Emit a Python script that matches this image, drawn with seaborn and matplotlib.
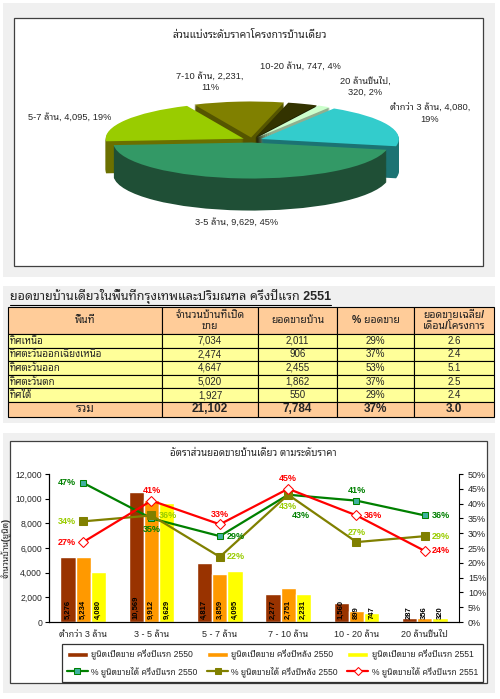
import numpy as np
import pandas as pd
import matplotlib
matplotlib.use("Agg")
import matplotlib.pyplot as plt
import seaborn as sns
from matplotlib import font_manager
from matplotlib.patches import Rectangle
from matplotlib.ticker import FuncFormatter, PercentFormatter

# ---- pie: share of price levels ----
pie_labels = ["ต่ำกว่า 3 ล้าน", "3-5 ล้าน", "5-7 ล้าน", "7-10 ล้าน", "10-20 ล้าน", "20 ล้านขึ้นไป"]
pie_units = [4080, 9629, 4095, 2231, 747, 320]
pie_pct = [19, 45, 19, 11, 4, 2]
pie_top = ["#33CCCC", "#339966", "#99CC00", "#808000", "#333300", "#CCFFCC"]
pie_side = ["#1C7373", "#1F4F36", "#6B7000", "#555500", "#1A1A00", "#8FAF8F"]

# ---- table ----
table_title = "ยอดขายบ้านเดี่ยวในพื้นที่กรุงเทพและปริมณฑล ครึ่งปีแรก 2551"
table_header = ["พื้นที่", "จำนวนบ้านที่เปิด\nขาย", "ยอดขายบ้าน", "% ยอดขาย", "ยอดขายเฉลี่ย/\nเดือน/โครงการ"]
areas = ["ทิศเหนือ", "ทิศตะวันออกเฉียงเหนือ", "ทิศตะวันออก", "ทิศตะวันตก", "ทิศใต้", "รวม"]
opened = [7034, 2474, 4647, 5020, 1927, 21102]
sold = [2011, 906, 2455, 1862, 550, 7784]
sold_pct = [29, 37, 53, 37, 29, 37]
avg_sold = [2.6, 2.4, 5.1, 2.5, 2.4, 3.0]

# ---- combo chart ----
price_ranges = ["ต่ำกว่า 3 ล้าน", "3 - 5 ล้าน", "5 - 7 ล้าน", "7 - 10 ล้าน", "10 - 20 ล้าน", "20 ล้านขึ้นไป"]
bar_series = ["ยูนิตเปิดขาย ครึ่งปีแรก 2550", "ยูนิตเปิดขาย ครึ่งปีหลัง 2550", "ยูนิตเปิดขาย ครึ่งปีแรก 2551"]
open_h1_2550 = [5276, 10569, 4817, 2277, 1560, 287]
open_h2_2550 = [5234, 9912, 3859, 2751, 899, 356]
open_h1_2551 = [4080, 9629, 4095, 2231, 747, 320]
bar_colors = ["#993300", "#FF9900", "#FFFF00"]

line_series = ["% ยูนิตขายได้ ครึ่งปีแรก 2550", "% ยูนิตขายได้ ครึ่งปีหลัง 2550", "% ยูนิตขายได้ ครึ่งปีแรก 2551"]
sold_h1_2550 = [47, 35, 29, 43, 41, 36]
sold_h2_2550 = [34, 36, 22, 43, 27, 29]
sold_h1_2551 = [27, 41, 33, 45, 36, 24]
line_colors = ["#008000", "#808000", "#FF0000"]
label_colors = ["#008000", "#99CC00", "#FF0000"]
label_place = [["l", "b", "r", "br", "a", "r"],
               ["l", "r", "r", "b", "a", "r"],
               ["l", "a", "a", "a", "r", "r"]]

names = {f.name for f in font_manager.fontManager.ttflist}
thai = next((n for n in ["Noto Sans Thai Looped", "Sarabun", "IBM Plex Sans Thai Looped",
                         "Noto Sans Thai", "Bai Jamjuree"] if n in names), "DejaVu Sans")
sns.set_style("white")
plt.rcParams["font.family"] = ["Liberation Sans", thai]
plt.rcParams["axes.edgecolor"] = "black"

fig = plt.figure(figsize=(5, 6.99), dpi=100)
bg = fig.add_axes([0, 0, 1, 1], zorder=-5)
bg.set_xlim(0, 500)
bg.set_ylim(699, 0)
bg.axis("off")
for x0, y0, x1, y1 in [(3, 3, 495, 277), (3, 286, 495, 423), (3, 433, 495, 693)]:
    bg.add_patch(Rectangle((x0, y0), x1 - x0, y1 - y0, facecolor="#F0F0F0", edgecolor="none"))
bg.add_patch(Rectangle((14, 18), 469, 248, facecolor="white", edgecolor="#404040", lw=0.9))
bg.add_patch(Rectangle((10, 441), 477, 242, facecolor="white", edgecolor="#404040", lw=0.9))

# ---- 3D-ish pie ----
axp = fig.add_axes([72 / 500, 1 - 230 / 699, 360 / 500, 140 / 699])
explode = [0.07] * len(pie_units)
depth = 0.89
for d in np.linspace(-depth, 0, 36)[:-1]:
    axp.pie(pie_units, colors=pie_side, startangle=58, counterclock=False,
            explode=explode, center=(0, d), wedgeprops=dict(linewidth=0))
axp.pie(pie_units, colors=pie_top, startangle=58, counterclock=False,
        explode=explode, center=(0, 0), wedgeprops=dict(linewidth=0))
axp.set_aspect("auto")
axp.set_xlim(-180 / 138, 180 / 138)
axp.set_ylim(-90 / 36, 50 / 36)
axp.axis("off")

bg.text(250, 35, "ส่วนแบ่งระดับราคาโครงการบ้านเดี่ยว", ha="center", va="center",
        fontsize=7.5, fontweight="bold")
pie_text_pos = [(430, 114, "{l}, {u:,},\n{p}%"), (237, 222, "{l}, {u:,}, {p}%"),
                (70, 117, "{l}, {u:,}, {p}%"), (210, 82, "{l}, {u:,},\n{p}%"),
                (300, 66, "{l}, {u:,}, {p}%"), (365, 87, "{l},\n{u:,}, {p}%")]
for (x, y, fmt), lab, u, p in zip(pie_text_pos, pie_labels, pie_units, pie_pct):
    bg.text(x, y, fmt.format(l=lab, u=u, p=p), ha="center", va="center",
            multialignment="center", fontsize=6.7, linespacing=1.3)

# ---- table ----
t = bg.text(10, 297, table_title, ha="left", va="center", fontsize=9, fontweight="bold")
fig.canvas.draw()
bb = t.get_window_extent().transformed(bg.transData.inverted())
bg.plot([bb.x0, bb.x1], [304.5, 304.5], color="black", lw=0.8)

axt = fig.add_axes([8 / 500, 1 - 417 / 699, 486 / 500, 110 / 699])
axt.axis("off")
cells = [[a, f"{o:,}", f"{s:,}", f"{p}%", f"{m:.1f}"]
         for a, o, s, p, m in zip(areas, opened, sold, sold_pct, avg_sold)]
tbl = axt.table(cellText=cells, colLabels=table_header,
                colWidths=[154, 96, 79, 77, 80], cellLoc="center", bbox=[0, 0, 1, 1])
tbl.auto_set_font_size(False)
n_rows = len(areas)
for (r, c), cell in tbl.get_celld().items():
    cell.set_edgecolor("black")
    cell.set_linewidth(0.8)
    txt = cell.get_text()
    if r == 0:
        cell.set_height(27)
        cell.set_facecolor("#FFCC99")
        txt.set_fontsize(7.5)
        txt.set_fontweight("bold")
        txt.set_color("#222222")
    elif r == n_rows:
        cell.set_height(15)
        cell.set_facecolor("#FFCC99")
        txt.set_fontsize(8.5)
        txt.set_fontweight("bold")
    else:
        cell.set_height(13.6)
        cell.set_facecolor("#FFFF99")
        txt.set_fontsize(7)
        if c == 0:
            cell.PAD = 0.01
            txt.set_horizontalalignment("left")

# ---- combo chart ----
axc = fig.add_axes([49 / 500, 1 - 622 / 699, 410 / 500, 148 / 699])
bars = pd.DataFrame({
    "ช่วงราคา": price_ranges * 3,
    "ยูนิต": open_h1_2550 + open_h2_2550 + open_h1_2551,
    "ชุด": np.repeat(bar_series, len(price_ranges)),
})
sns.barplot(data=bars, x="ช่วงราคา", y="ยูนิต", hue="ชุด", order=price_ranges,
            hue_order=bar_series, palette=bar_colors, width=0.67, saturation=1,
            ax=axc, legend=False)
for cont, vals in zip(axc.containers, [open_h1_2550, open_h2_2550, open_h1_2551]):
    for bar, v in zip(cont, vals):
        axc.annotate(f"{v:,}", (bar.get_x() + bar.get_width() / 2, 0), xytext=(0, 2),
                     textcoords="offset points", rotation=90, ha="center", va="bottom",
                     fontsize=5.5, fontweight="bold", color="black")

ax2 = axc.twinx()
xpos = np.arange(len(price_ranges))
markers = [dict(marker="s", markersize=5, markerfacecolor="#40B0A0", markeredgecolor="#008000"),
           dict(marker="s", markersize=5.5, markerfacecolor="#808000", markeredgecolor="#808000"),
           dict(marker="D", markersize=5, markerfacecolor="white", markeredgecolor="#FF0000")]
line_handles = []
offsets = {"l": ((-5, 0), "right", "center"), "r": ((5, 0), "left", "center"),
           "a": ((0, 4), "center", "bottom"), "b": ((0, -5), "center", "top"),
           "br": ((9, -12), "center", "top")}
for vals, col, lcol, mk, places in zip([sold_h1_2550, sold_h2_2550, sold_h1_2551],
                                       line_colors, label_colors, markers, label_place):
    y = np.array(vals) / 100
    sns.lineplot(x=xpos, y=y, ax=ax2, color=col, linewidth=1.6, legend=False, **mk)
    line_handles.append(ax2.lines[-1])
    for xi, yi, v, pl in zip(xpos, y, vals, places):
        off, ha, va = offsets[pl]
        ax2.annotate(f"{v}%", (xi, yi), xytext=off, textcoords="offset points",
                     ha=ha, va=va, fontsize=6.5, fontweight="bold", color=lcol)

axc.set_xlim(-0.5, len(price_ranges) - 0.5)
axc.set_ylim(0, 12000)
axc.set_yticks(range(0, 12001, 2000))
axc.yaxis.set_major_formatter(FuncFormatter(lambda v, p: f"{int(v):,}"))
axc.set_xticks(np.arange(0.5, len(price_ranges) - 0.5, 1), minor=True)
axc.tick_params(axis="x", which="major", length=0, labelsize=6.5, pad=6)
axc.tick_params(axis="x", which="minor", length=4, direction="out", width=0.8, color="black")
axc.tick_params(axis="y", labelsize=6.2, length=3, pad=2, direction="out", width=0.8,
                color="black", left=True)
axc.set_xlabel("")
axc.set_ylabel("จำนวนบ้าน(ยูนิต)", fontsize=6.3, fontweight="bold")
axc.yaxis.set_label_coords(-0.09, 0.5)
ax2.set_ylim(0, 0.5)
ax2.set_yticks(np.arange(0, 0.501, 0.05))
ax2.yaxis.set_major_formatter(PercentFormatter(1, decimals=0))
ax2.tick_params(axis="y", labelsize=6.5, length=3, direction="out", width=0.8, color="black", right=True)
ax2.set_ylabel("")
for a in (axc, ax2):
    a.spines["top"].set_visible(False)
    for s in a.spines.values():
        s.set_linewidth(0.8)
axc.spines["right"].set_visible(False)

bg.text(253, 453, "อัตราส่วนยอดขายบ้านเดี่ยว ตามระดับราคา", ha="center", va="center",
        fontsize=7, fontweight="bold")

handles, labels = [], []
for bc, bl, ln, ll in zip(axc.containers, bar_series, line_handles, line_series):
    handles += [bc, ln]
    labels += [bl, ll]
leg = fig.legend(handles, labels, ncol=3, loc="center",
                 bbox_to_anchor=(62 / 500, 1 - 681 / 699, 421 / 500, 36 / 699), mode="expand",
                 frameon=True, fancybox=False, edgecolor="black", fontsize=6.2,
                 handlelength=2.4, handleheight=0.5, handletextpad=0.4, borderaxespad=0,
                 borderpad=0.6, columnspacing=1.2, labelspacing=0.7, markerscale=0.8)
leg.get_frame().set_linewidth(0.9)

fig.savefig("out.png", dpi=100)
